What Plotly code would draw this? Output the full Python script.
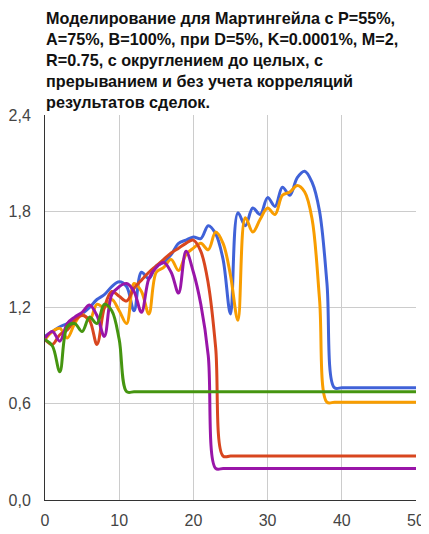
import plotly.graph_objects as go

x_vals = list(range(0, 51))

blue = [1.02, 1.05, 1.08, 1.10, 1.13, 1.16, 1.20, 1.25, 1.28, 1.33,
        1.36, 1.33, 1.18, 1.42, 1.38, 1.46, 1.48, 1.53, 1.60, 1.62,
        1.64, 1.63, 1.71, 1.66, 1.50, 1.16, 1.79, 1.71, 1.82, 1.78,
        1.885, 1.83, 1.95, 1.90, 2.01, 2.05, 1.98, 1.80, 1.35, 0.70] + [0.70] * 11

orange = [1.00, 1.05, 1.07, 1.01, 1.10, 1.16, 1.12, 1.22, 1.20, 1.25,
          1.18, 1.10, 1.35, 1.30, 1.16, 1.42, 1.45, 1.50, 1.43, 1.53,
          1.57, 1.60, 1.56, 1.67, 1.60, 1.40, 1.12, 1.76, 1.67, 1.75,
          1.82, 1.78, 1.90, 1.92, 1.96, 1.92, 1.75, 1.25, 0.61] + [0.61] * 12

green = [1.00, 0.96, 0.80, 1.08, 1.10, 1.05, 1.14, 1.10, 1.22, 1.18,
         1.00, 0.675] + [0.675] * 39

red = [1.00, 0.97, 1.03, 1.06, 1.12, 1.15, 1.12, 0.97, 1.20, 1.30,
       1.27, 1.24, 1.32, 1.37, 1.42, 1.46, 1.50, 1.54, 1.57, 1.60,
       1.62, 1.55, 1.35, 0.95, 0.274] + [0.274] * 26

purple = [1.01, 1.05, 0.99, 1.10, 1.14, 1.17, 1.215, 1.15, 1.02, 1.28,
          1.33, 1.35, 1.30, 1.17, 1.38, 1.45, 1.48, 1.42, 1.29, 1.55,
          1.42, 1.22, 0.90, 0.197] + [0.197] * 27

y_ticks = [0.0, 0.6, 1.2, 1.8, 2.4]
y_tick_labels = ["0,0", "0,6", "1,2", "1,8", "2,4"]
x_ticks = [0, 10, 20, 30, 40, 50]
x_tick_labels = ["0", "10", "20", "30", "40", "50"]

title_text = ("<b>Моделирование для Мартингейла с P=55%,<br>"
              "A=75%, B=100%, при D=5%, K=0.0001%, M=2,<br>"
              "R=0.75, с округлением до целых, с<br>"
              "прерыванием и без учета корреляций<br>"
              "результатов сделок.</b>")

series = [
    ("blue", blue, "#4062d8"),
    ("orange", orange, "#f89d00"),
    ("red", red, "#d8461f"),
    ("purple", purple, "#9915a8"),
    ("green", green, "#459510"),
]

fig = go.Figure()
for name, ys, color in series:
    fig.add_trace(go.Scatter(
        x=x_vals, y=ys, mode="lines", name=name,
        line=dict(color=color, width=3, shape="spline", smoothing=1.0),
        hoverinfo="skip",
    ))

font_family = "Liberation Sans, Arial, sans-serif"

# page has an 8px body margin, so the figure is sized/offset accordingly
fig.add_annotation(
    text=title_text, xref="paper", yref="paper",
    x=0, y=1 + 107 / 385, xanchor="left", yanchor="top",
    align="left", showarrow=False, borderpad=0,
    font=dict(family=font_family, size=16.2, color="#111111"),
)

fig.update_layout(
    width=421, height=526,
    margin=dict(l=37, r=13, t=107, b=34),
    paper_bgcolor="white", plot_bgcolor="white",
    showlegend=False,
    font=dict(family=font_family, color="#444444", size=16),
    xaxis=dict(
        range=[0, 50], tickvals=x_ticks, ticktext=x_tick_labels,
        showgrid=True, gridcolor="#cccccc", gridwidth=1,
        showline=True, linecolor="#333333", linewidth=1,
        zeroline=False, ticks="", ticklabelstandoff=6, automargin=False,
        tickfont=dict(size=16, color="#444444"),
    ),
    yaxis=dict(
        range=[0, 2.4], tickvals=y_ticks, ticktext=y_tick_labels,
        showgrid=True, gridcolor="#cccccc", gridwidth=1,
        showline=True, linecolor="#333333", linewidth=1,
        zeroline=False, ticks="", ticklabelstandoff=10, automargin=False,
        tickfont=dict(size=16, color="#444444"),
    ),
)

fig.write_html("out.html")
